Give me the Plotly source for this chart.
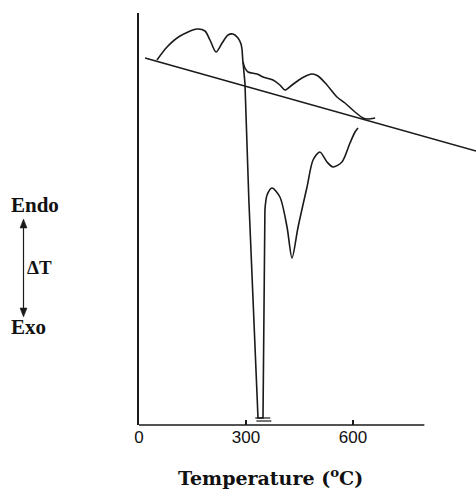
import plotly.graph_objects as go

# ---- data (temperature in °C, ΔT in arbitrary units) ----
baseline_t = [17, 945]
baseline_dt = [367, 274]

curve1_t = [50.5, 78.5, 115, 162.6, 185, 199, 216, 233, 249.5, 263.5, 277.5, 286, 289, 291.6,
            297, 305.6, 331, 347.6, 375.7, 395, 409, 429, 457, 485, 502, 527, 555, 577.5,
            605.6, 628, 639.6, 662]
curve1_dt = [365, 378, 389, 396, 394, 385, 373, 382, 390, 391, 387, 381, 375, 363,
             357, 353, 351, 348, 345, 340, 335, 340, 347, 351, 349, 340, 328, 322,
             313, 307, 306, 307]

spike_t = [291.6, 297, 308, 333.6, 347.6, 350.4, 353]
spike_dt = [363, 342, 225, 7, 7, 95, 215]

curve2_t = [353, 359, 373, 395, 415, 429, 446, 471, 488, 507, 527, 544, 569, 591.5, 605.6, 614]
curve2_dt = [215, 230, 237, 228, 198, 167, 198, 238, 265, 273, 263, 258, 263, 282, 293, 297]

break_t = [326, 368, None, 329, 371]
break_dt = [7, 7, None, 4, 4]

tick_vals = [0, 300, 600]
tick_text = ["0", "300", "600"]

line_col = "#1a1a1a"
px_per_deg = 0.3567
plot_w = 476 - 139
plot_h = 412
x_max = plot_w / px_per_deg

fig = go.Figure()
fig.add_trace(go.Scatter(x=baseline_t, y=baseline_dt, mode="lines",
                         line=dict(color=line_col, width=1.6), hoverinfo="skip"))
fig.add_trace(go.Scatter(x=curve1_t, y=curve1_dt, mode="lines",
                         line=dict(color=line_col, width=1.6, shape="spline", smoothing=0.8),
                         hoverinfo="skip"))
fig.add_trace(go.Scatter(x=spike_t, y=spike_dt, mode="lines",
                         line=dict(color=line_col, width=1.6), hoverinfo="skip"))
fig.add_trace(go.Scatter(x=curve2_t, y=curve2_dt, mode="lines",
                         line=dict(color=line_col, width=1.6, shape="spline", smoothing=0.8),
                         hoverinfo="skip"))
fig.add_trace(go.Scatter(x=break_t, y=break_dt, mode="lines",
                         line=dict(color=line_col, width=1.2), hoverinfo="skip"))


def px(xp):
    return (xp - 139) / plot_w


def py(yp):
    return (425 - yp) / plot_h


def tri(xc, ytip, ybase, half):
    return (f"M {px(xc)},{py(ytip)} L {px(xc - half)},{py(ybase)} "
            f"L {px(xc + half)},{py(ybase)} Z")


arrow_x = 23.5
fig.update_layout(
    width=476, height=489,
    margin=dict(l=139, r=0, t=13, b=64),
    paper_bgcolor="white", plot_bgcolor="white",
    showlegend=False,
    xaxis=dict(range=[0, x_max], showgrid=False, zeroline=False, showline=False,
               tickvals=tick_vals, ticktext=tick_text, ticks="inside", ticklen=5,
               tickwidth=1.5, tickcolor=line_col,
               tickfont=dict(family="Liberation Sans, Arial", size=17, color="#111")),
    yaxis=dict(range=[0, plot_h], showgrid=False, zeroline=False, showline=True,
               linecolor=line_col, linewidth=2, showticklabels=False, ticks=""),
    shapes=[dict(type="line", xref="paper", yref="paper", x0=0, x1=800 / x_max,
                 y0=0, y1=0, line=dict(color=line_col, width=1.6)),
            dict(type="line", xref="paper", yref="paper",
                 x0=px(arrow_x), x1=px(arrow_x), y0=py(226), y1=py(310),
                 line=dict(color=line_col, width=1.2)),
            dict(type="path", xref="paper", yref="paper", path=tri(arrow_x, 219, 228, 3.5),
                 fillcolor=line_col, line=dict(color=line_col, width=0.5)),
            dict(type="path", xref="paper", yref="paper", path=tri(arrow_x, 317, 308, 3.5),
                 fillcolor=line_col, line=dict(color=line_col, width=0.5))],
)

fig.add_annotation(text="<b>Temperature (<sup>o</sup>C)</b>", xref="paper", yref="paper",
                   x=px(270), y=py(477), showarrow=False,
                   font=dict(family="DejaVu Serif", size=19, color="#111"),
                   xanchor="center", yanchor="middle")
serif_bold = "Liberation Serif, Times New Roman, serif"
for txt, yy, xx, sz in [("Endo", 205, 35, 21), ("ΔT", 267, 39, 19), ("Exo", 327, 28, 21)]:
    fig.add_annotation(text=f"<b>{txt}</b>", xref="paper", yref="paper",
                       x=px(xx), y=py(yy), showarrow=False,
                       font=dict(family=serif_bold, size=sz, color="#111"),
                       xanchor="center", yanchor="middle")

fig.write_html("out.html", config={"displayModeBar": False},
               post_script="document.body.style.margin='0';")
